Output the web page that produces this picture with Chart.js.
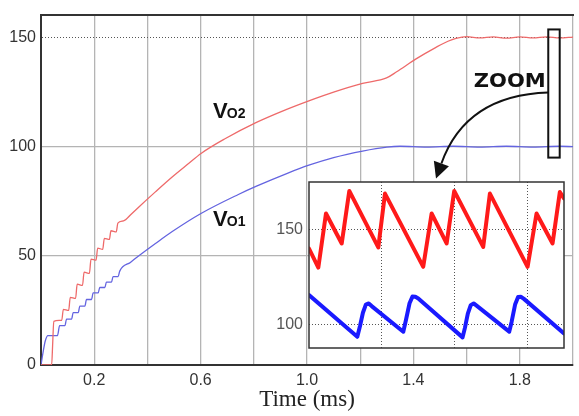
<!DOCTYPE html>
<html>
<head>
<meta charset="utf-8">
<script src="https://cdn.jsdelivr.net/npm/chart.js@4.4.0/dist/chart.umd.min.js"></script>
<style>
  html, body { margin: 0; padding: 0; background: #fff; }
  #wrap { position: relative; width: 579px; height: 416px; }
  #wrap canvas { position: absolute; left: 0; top: 0; }
</style>
</head>
<body>
<div id="wrap">
  <canvas id="mainChart" width="579" height="416"></canvas>
  <canvas id="zoomChart" width="579" height="416"></canvas>
</div>
<script>
// main traces, [time ms, volts]
const vo2Points = [[0,0],[0.04,0],[0.044,10],[0.048,20],[0.078,20.5],[0.084,25.5],[0.104,25],[0.11,31],[0.13,30.5],
  [0.136,37],[0.156,36.5],[0.162,42.5],[0.182,42],[0.188,48.5],[0.207,48],[0.213,53.5],[0.232,53],[0.238,58],
  [0.257,57.5],[0.263,61.5],[0.283,61],[0.289,65],[0.31,66],[0.34,69.2],[0.368,72.4],[0.43,79.3],[0.492,86],
  [0.55,91.8],[0.603,97],[0.69,103.5],[0.808,111],[0.926,117.2],[1.007,121],[1.1,125],[1.209,129],[1.299,131.5],
  [1.337,134.3],[1.41,140.2],[1.485,145.5],[1.53,148.3],[1.56,149.6],[1.6,150.4],[1.65,149.8],[1.7,150.3],
  [1.75,149.7],[1.8,150.3],[1.85,149.8],[1.9,150.3],[1.95,149.8],[2.0,150.2]];
const vo1Points = [[0,0],[0.008,6],[0.016,11],[0.026,13.5],[0.062,13.5],[0.07,18],[0.09,18],[0.096,21],[0.115,21],
  [0.121,24],[0.14,24],[0.146,27],[0.165,27],[0.171,30],[0.19,30],[0.196,33],[0.215,33],[0.221,35.5],[0.24,35.5],
  [0.246,38],[0.265,38],[0.271,40.5],[0.29,40.5],[0.296,43],[0.336,47],[0.368,50],[0.429,55.5],[0.492,61],
  [0.603,69.5],[0.74,78],[0.808,81.8],[0.926,87.8],[1.007,91.5],[1.1,95],[1.209,98],[1.3,99.8],[1.35,100.2],
  [1.45,99.8],[1.55,100.2],[1.65,99.8],[1.75,100.2],[1.85,99.8],[1.95,100.2],[2.0,100]];

const timeGrid = [0, 0.2, 0.4, 0.6, 0.8, 1.0, 1.2, 1.4, 1.6, 1.8, 2.0];
const timeLabels = [0.2, 0.6, 1.0, 1.4, 1.8];
const voltTicks = [0, 50, 100, 150];

// zoomed window (arbitrary time units)
const zoomVo2 = [[0,139.8],[0.128,129.8],[0.233,158.3],[0.449,142.5],[0.553,170.2],[0.951,140.4],[1.043,168.8],
  [1.568,130.2],[1.683,158.3],[1.889,142.5],[1.993,170.2],[2.391,140.7],[2.483,168.8],[3.0,130.2],[3.123,158.3],
  [3.343,142.5],[3.443,169.6],[3.5,166.2]];
const zoomVo1 = [[0,115.3],[0.663,93.3],[0.7,99],[0.74,106],[0.78,110.3],[0.82,110.9],[0.86,109.5],[1.294,96.0],
  [1.33,102],[1.38,111],[1.42,114.5],[1.46,114.4],[1.5,113.5],[2.108,93.0],[2.14,98],[2.18,105.5],[2.22,110],
  [2.26,110.9],[2.3,109.7],[2.748,96],[2.78,101],[2.83,110.5],[2.87,114.3],[2.91,114.4],[2.95,113.3],[3.5,95.1]];
const zoomGridX = [1, 2, 3];
const zoomTicks = [100, 150];

const sans = '"Liberation Sans", Arial, sans-serif';
const toXY = pts => pts.map(p => ({x: p[0], y: p[1]}));

const notes = {
  id: 'notes',
  afterDraw(chart) {
    const {ctx, scales: {x, y}} = chart;
    const px = (t, v) => [x.getPixelForValue(t), y.getPixelForValue(v)];
    ctx.save();
    ctx.fillStyle = '#111';
    ctx.strokeStyle = '#111';
    // curve names
    [['O2', 0.647, 113.3], ['O1', 0.647, 63.7]].forEach(([sub, t, v]) => {
      const [lx, ly] = px(t, v);
      ctx.font = 'bold 22px ' + sans;
      ctx.fillText('V', lx, ly);
      const w = ctx.measureText('V').width;
      ctx.font = 'bold 14px ' + sans;
      ctx.fillText(sub, lx + w - 1, ly);
    });
    // ZOOM tag
    const [zx, zy] = px(1.627, 127.3);
    ctx.font = 'bold 19px "DejaVu Sans", ' + sans;
    const tw = ctx.measureText('ZOOM').width;
    ctx.save();
    ctx.translate(zx, zy);
    ctx.scale(72 / tw, 1);
    ctx.fillText('ZOOM', 0, 0);
    ctx.restore();
    // zoom window box
    const [bx1, by1] = px(1.907, 153.7);
    const [bx2, by2] = px(1.95, 95);
    ctx.lineWidth = 2;
    ctx.strokeRect(bx1, by1, bx2 - bx1, by2 - by1);
    // arrow
    const [sx, sy] = px(1.907, 124.8);
    const [cx, cy] = px(1.597, 123.6);
    const [ex, ey] = px(1.485, 85.4);
    const dx = ex - cx, dy = ey - cy, d = Math.hypot(dx, dy);
    const ux = dx / d, uy = dy / d;
    const hl = 16, hw = 8;
    const bxp = ex - ux * hl, byp = ey - uy * hl;
    ctx.lineWidth = 2;
    ctx.beginPath();
    ctx.moveTo(sx, sy);
    ctx.quadraticCurveTo(cx, cy, bxp, byp);
    ctx.stroke();
    ctx.beginPath();
    ctx.moveTo(ex, ey);
    ctx.lineTo(bxp - uy * hw, byp + ux * hw);
    ctx.lineTo(bxp + uy * hw, byp - ux * hw);
    ctx.closePath();
    ctx.fill();
    ctx.restore();
  }
};

new Chart(document.getElementById('mainChart'), {
  type: 'line',
  data: {
    datasets: [{
      label: 'Vo2',
      data: toXY(vo2Points),
      borderColor: '#ee6a6a',
      borderWidth: 1.3
    }, {
      label: 'Vo1',
      data: toXY(vo1Points),
      borderColor: '#6464e0',
      borderWidth: 1.3
    }]
  },
  options: {
    responsive: false,
    animation: false,
    layout: { padding: { left: 0, right: 1, top: 9, bottom: 0 } },
    elements: { point: { radius: 0 }, line: { cubicInterpolationMode: 'monotone' } },
    plugins: { legend: { display: false }, tooltip: { enabled: false } },
    scales: {
      x: {
        type: 'linear', min: 0, max: 2.0,
        afterBuildTicks: ax => { ax.ticks = timeGrid.map(v => ({value: v})); },
        afterFit: s => { s.height = 51; },
        ticks: {
          padding: 6, color: '#333', maxRotation: 0, autoSkip: false,
          font: { family: sans, size: 16 },
          callback: v => timeLabels.some(l => Math.abs(l - v) < 1e-6) ? v.toFixed(1) : ''
        },
        grid: { color: '#b4b4b4', lineWidth: 1.3, drawTicks: false },
        border: { color: '#333', width: 2 },
        title: {
          display: true, text: 'Time (ms)', color: '#222',
          font: { family: '"Liberation Serif", "Times New Roman", serif', size: 23 },
          padding: { top: 0, bottom: 2 }
        }
      },
      xTop: {
        type: 'linear', position: 'top', display: true,
        ticks: { display: false }, grid: { display: false },
        border: { color: '#333', width: 2 },
        afterFit: s => { s.height = 0; }
      },
      y: {
        min: 0, max: 160.5,
        afterBuildTicks: ax => { ax.ticks = voltTicks.map(v => ({value: v})); },
        afterFit: s => { s.width = 41; },
        ticks: { padding: 5, color: '#333', font: { family: sans, size: 16 } },
        grid: {
          color: ctx => ctx.tick && ctx.tick.value === 150 ? '#555' : '#b4b4b4',
          lineWidth: ctx => ctx.tick && ctx.tick.value === 150 ? 1 : 1.3,
          drawTicks: false
        },
        border: {
          color: '#333', width: 2,
          dash: ctx => ctx.tick && ctx.tick.value === 150 ? [1, 2] : []
        }
      }
    }
  },
  plugins: [notes]
});

const insetFrame = {
  id: 'insetFrame',
  beforeDraw(chart) {
    const {ctx, chartArea: a} = chart;
    ctx.save();
    ctx.fillStyle = '#fff';
    ctx.fillRect(a.left, a.top, a.width, a.height);
    ctx.restore();
  },
  afterDraw(chart) {
    const {ctx, chartArea: a} = chart;
    ctx.save();
    ctx.strokeStyle = '#333';
    ctx.lineWidth = 1.5;
    ctx.strokeRect(a.left, a.top, a.width, a.height);
    ctx.restore();
  }
};

new Chart(document.getElementById('zoomChart'), {
  type: 'line',
  data: {
    datasets: [{
      data: toXY(zoomVo2),
      borderColor: '#ff1a1a',
      borderWidth: 4
    }, {
      data: toXY(zoomVo1),
      borderColor: '#1a1aff',
      borderWidth: 4
    }]
  },
  options: {
    responsive: false,
    animation: false,
    layout: { padding: { left: 260, right: 15, top: 182, bottom: 68 } },
    elements: { point: { radius: 0 }, line: { tension: 0, borderJoinStyle: 'round', borderCapStyle: 'round' } },
    plugins: { legend: { display: false }, tooltip: { enabled: false } },
    scales: {
      x: {
        type: 'linear', min: 0, max: 3.5,
        afterBuildTicks: ax => { ax.ticks = zoomGridX.map(v => ({value: v})); },
        afterFit: s => { s.height = 0; },
        ticks: { display: false },
        grid: { color: '#555', lineWidth: 1, drawTicks: false },
        border: { display: false, dash: [1, 2] }
      },
      y: {
        min: 87.4, max: 174.9,
        afterBuildTicks: ax => { ax.ticks = zoomTicks.map(v => ({value: v})); },
        afterFit: s => { s.width = 49; },
        ticks: { padding: 6, color: '#555', font: { family: sans, size: 16 } },
        grid: { color: '#555', lineWidth: 1, drawTicks: false },
        border: { display: false, dash: [1, 2] }
      }
    }
  },
  plugins: [insetFrame]
});
</script>
</body>
</html>
